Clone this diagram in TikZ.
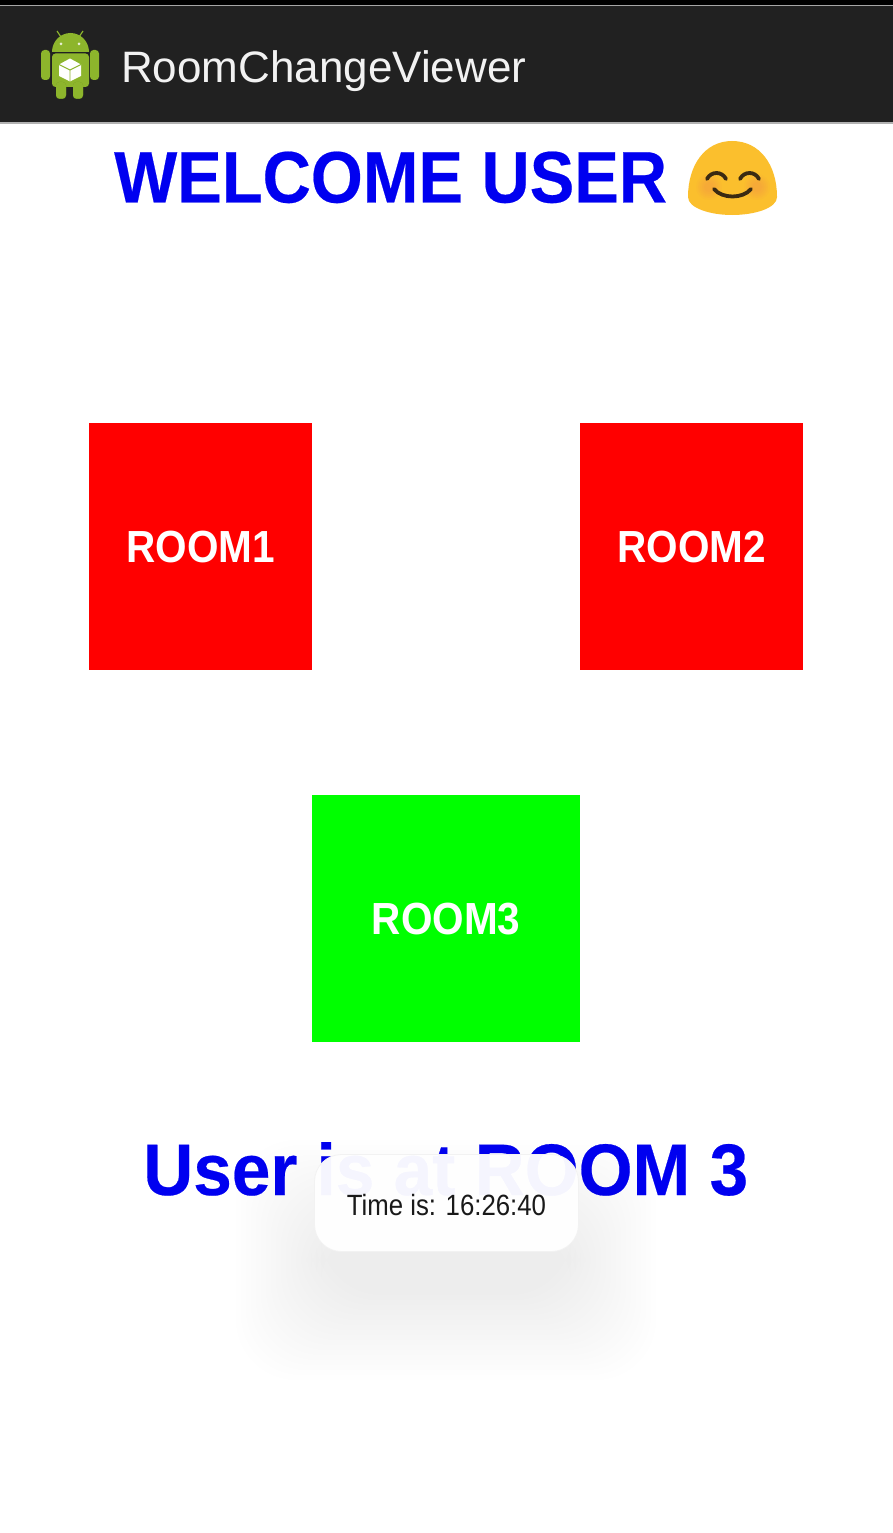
\documentclass[tikz,border=0pt]{standalone}
\usepackage{fontspec}
\setmainfont{Liberation Sans}
\newfontfamily\toastfont[FakeStretch=0.88]{Liberation Sans}
\newfontfamily\welcomefont[FakeStretch=0.915,FakeBold=0.3]{Liberation Sans}
\newfontfamily\statusfont[FakeStretch=0.95,FakeBold=0.3]{Liberation Sans}
\newfontfamily\roomfont[FakeStretch=0.90]{Liberation Sans}
\usetikzlibrary{calc, positioning}
\definecolor{barcol}{HTML}{212121}
\definecolor{droidcol}{HTML}{8DB52C}
\definecolor{droiddark}{HTML}{6F9420}
\definecolor{faceyellow}{HTML}{FBBF2D}
\definecolor{cheekcol}{HTML}{F59A45}
\definecolor{mouthcol}{HTML}{3A2A12}
\definecolor{titletext}{HTML}{0000F0}
\tikzset{
  roombox/.style={inner sep=0pt, text=white, font=\roomfont\fontsize{45}{50}\selectfont\bfseries},
  headline/.style={inner sep=0pt, text=titletext},
  droidpart/.style={fill=droidcol, rounded corners=3.5pt},
  facestroke/.style={draw=mouthcol, line width=3.8pt, line cap=round},
}

\begin{document}
\begin{tikzpicture}[x=1pt,y=-1pt]
        % Page
        \useasboundingbox (0,0) rectangle (893,1533);
        \fill[white] (0,0) rectangle (893,1533);

        % Title Bar
        \fill[black] (0,0) rectangle (893,5);
        \fill[barcol] (0,5) rectangle (893,123);
        \fill[gray!70] (0,5) rectangle (893,6.5);
        \fill[gray!60] (0,122.5) rectangle (893,124);
        \node[anchor=base west, inner sep=0pt, text=white!95!black, font=\fontsize{44}{50}\selectfont] (apptitle) at (121,83) {RoomChangeViewer};

        % Android Icon
        \draw[droidcol, line width=1.2pt] (57,31) -- (61,37);
        \draw[droidcol, line width=1.2pt] (83,31) -- (79,37);
        \fill[droidcol] (52,52) arc[start angle=180, end angle=0, x radius=18.5, y radius=-19] -- cycle;
        \fill[white!80!droidcol] (61,44) circle (1.5) (79,44) circle (1.5);
        \fill[droidpart] (52,53.5) -- (89,53.5) -- (89,87) -- (52,87) -- cycle;
        \fill[droidpart] (41,50) rectangle (50,80);
        \fill[droidpart] (90,50) rectangle (99,80);
        \fill[droiddark, rounded corners=3.5pt] (56,82) rectangle (66,99);
        \fill[droiddark, rounded corners=3.5pt] (73,82) rectangle (83,99);
        \fill[droidpart] (56,82) rectangle (66,98.5);
        \fill[droidpart] (73,82) rectangle (83,98.5);
        \fill[white] (70,58.5) -- (81,64.5) -- (81,76) -- (70,81.5) -- (59,76) -- (59,64.5) -- cycle;
        \draw[droidcol, line width=.9pt] (59,64.5) -- (70,70) -- (81,64.5) (70,70) -- (70,81.5);

        % Welcome Line
        \node[headline, anchor=base west, font=\welcomefont\fontsize{73}{80}\selectfont\bfseries] (welcome) at (114,202.5) {WELCOME USER};

        % Smiley
        \fill[faceyellow] (688,197) .. controls (688,165) and (705,141) .. (732,141)
                .. controls (760,141) and (777,165) .. (777,197)
                .. controls (777,208) and (755,215) .. (732,215)
                .. controls (710,215) and (688,208) .. (688,197) -- cycle;
        \foreach \cx in {709,757} {
            \foreach \rr/\op in {13/.10,11/.12,9/.14,7/.16,5/.18}
                \fill[cheekcol, opacity=\op] (\cx,187) circle (\rr);
        }
        \draw[facestroke] (707,179) .. controls (711,171) and (722,171) .. (726,179);
        \draw[facestroke] (740,179) .. controls (744,171) and (755,171) .. (759,179);
        \draw[facestroke] (714,189) .. controls (722,199) and (743,199) .. (751,189);

        % Rooms
        \node[roombox, fill=red, minimum width=223.5pt, minimum height=247.5pt] (room1) at (200.7,546.7) {\raisebox{-3pt}{ROOM1}};
        \node[roombox, fill=red, minimum width=223.5pt, minimum height=247.5pt] (room2) at (691.7,546.7) {\raisebox{-3pt}{ROOM2}};
        \node[roombox, fill=green, minimum width=268.5pt, minimum height=247.5pt] (room3) at (446.2,918.7) {\raisebox{-3pt}{ROOM3}};

        % Status Line
        \node[headline, anchor=base west, font=\statusfont\fontsize{73}{80}\selectfont\bfseries] (status) at (143,1195) {User is at ROOM 3};

        % Toast Shadow
        \foreach \g in {0,...,17}
            \fill[black, opacity=.004, rounded corners=60pt]
                ({236+5*\g},{1140+5*\g}) rectangle ({656-5*\g},{1380-5*\g});

        % Toast
        \node[fill=white, draw=black!5, line width=.8pt, rounded corners=27pt, fill opacity=.96,
              minimum width=264pt, minimum height=97pt, inner sep=0pt] (toast) at (446.5,1203) {};
        \node[anchor=base, inner sep=0pt, text=black!90, font=\toastfont\fontsize{29.3}{33}\selectfont] (toasttext) at (446.5,1215) {Time is: 16:26:40};
    \end{tikzpicture}
\end{document}
